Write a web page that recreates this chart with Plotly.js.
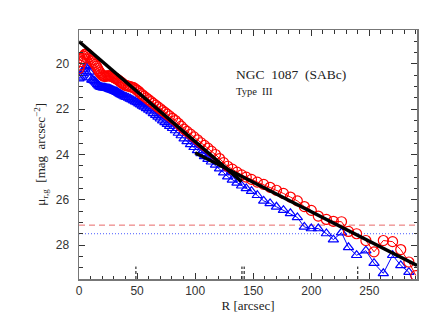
<!DOCTYPE html>
<html>
<head>
<meta charset="utf-8">
<script src="https://cdn.plot.ly/plotly-3.0.1.min.js"></script>
<style>
  body { margin: 0; background: #fff; }
  #myDiv { width: 430px; height: 333px; }
</style>
</head>
<body>
<div id="myDiv"></div>
<script>
var radius = [0, 1, 2, 3, 4, 5, 6, 7, 8, 9, 10, 11, 12, 13, 14, 15, 16, 17, 18, 19,
  20, 21, 22, 23, 24, 25, 26, 27, 28, 29, 30, 31, 32, 33, 34, 35, 36, 37, 38, 39.5,
  41, 42.5, 44, 45.5, 47, 48.5, 50, 51.5, 53, 54.5, 56, 58, 60, 62, 64, 66, 68, 70, 72, 74,
  76, 78, 80.5, 83, 85.5, 88, 90.5, 93, 96, 99, 102, 105, 108, 111, 114, 117.5, 121, 124.5, 128, 132,
  136, 140, 144, 148.5, 153.5, 159, 164.5, 170, 176, 182, 188, 194, 200, 206, 213, 219, 226, 232,
  239, 247, 254, 262, 270, 277, 284, 290];

var muR = [20.2, 20.05, 19.9, 19.75, 19.65, 19.58, 19.55, 19.55, 19.6, 19.68, 19.75, 19.82, 19.88, 19.95, 20.02, 20.1, 20.2, 20.3, 20.38, 20.45,
  20.5, 20.53, 20.55, 20.55, 20.53, 20.52, 20.52, 20.53, 20.55, 20.57, 20.6, 20.62, 20.65, 20.68, 20.72, 20.76, 20.8, 20.84, 20.88, 20.93,
  20.96, 20.98, 21.0, 21.02, 21.05, 21.1, 21.16, 21.22, 21.3, 21.36, 21.42, 21.5, 21.58, 21.66, 21.74, 21.82, 21.9, 21.98, 22.06, 22.14,
  22.22, 22.3, 22.4, 22.5, 22.62, 22.75, 22.88, 22.98, 23.1, 23.22, 23.35, 23.48, 23.6, 23.72, 23.85, 24.0, 24.18, 24.36, 24.52, 24.65,
  24.78, 24.9, 25.0, 25.1, 25.22, 25.32, 25.45, 25.58, 25.72, 25.88, 26.05, 26.3, 26.47, 26.72, 26.87, 26.95, 26.97, 27.4,
  27.5, 27.8, 28.3, 27.8, 27.85, 28.2, 28.75, 29.35];

var muG = [20.65, 20.6, 20.52, 20.42, 20.32, 20.22, 20.12, 20.05, 20.1, 20.35, 20.6, 20.7, 20.72, 20.74, 20.78, 20.84, 20.9, 20.96, 21.0, 21.02,
  21.04, 21.05, 21.05, 21.06, 21.07, 21.08, 21.1, 21.12, 21.14, 21.16, 21.18, 21.2, 21.22, 21.25, 21.28, 21.31, 21.34, 21.37, 21.4, 21.44,
  21.47, 21.5, 21.54, 21.58, 21.62, 21.66, 21.7, 21.75, 21.8, 21.85, 21.9, 21.96, 22.03, 22.1, 22.18, 22.26, 22.34, 22.42, 22.5, 22.58,
  22.66, 22.75, 22.84, 22.94, 23.05, 23.16, 23.3, 23.42, 23.55, 23.68, 23.82, 23.95, 24.08, 24.2, 24.32, 24.46, 24.62, 24.8, 24.98, 25.12,
  25.25, 25.38, 25.5, 25.62, 25.8, 26.05, 26.16, 26.31, 26.46, 26.6, 26.78, 27.2, 27.27, 27.27, 27.49, 27.76, 27.45, 28.1,
  28.45, 28.25, 28.8, 29.25, 28.45, 28.9, 29.2, 29.9];

// fitted disc segments (inner and outer)
var fitInR = [0, 140];
var fitInMu = [19.01, 25.2];
var fitOutR = [100, 291];
var fitOutMu = [23.92, 28.9];

// break radii marked at the bottom
var breakR = [49, 140.3, 142.2, 240];

// sky limits
var limitR = 27.12;
var limitG = 27.5;

var serif = '"Liberation Serif", "DejaVu Serif", serif';

var traceG = {
  x: radius, y: muG, mode: 'lines+markers', type: 'scatter',
  line: {color: '#0000ff', width: 1},
  marker: {symbol: 'triangle-up-open', size: 9, color: '#0000ff', line: {width: 1.2, color: '#0000ff'}}
};
var traceR = {
  x: radius, y: muR, mode: 'lines+markers', type: 'scatter',
  line: {color: '#ff0000', width: 1},
  marker: {symbol: 'circle-open', size: 10, color: '#ff0000', line: {width: 1.2, color: '#ff0000'}}
};
var fitIn = {x: fitInR, y: fitInMu, mode: 'lines', line: {color: '#000', width: 3.5}};
var fitOut = {x: fitOutR, y: fitOutMu, mode: 'lines', line: {color: '#000', width: 3.5}};

var bx = [], by = [];
breakR.forEach(function (r) { bx.push(r, r, null); by.push(29.5, 28.95, null); });
var breaks = {x: bx, y: by, mode: 'lines', line: {color: '#000', width: 1, dash: '3px,2px'}};

var skyR = {x: [0, 291], y: [limitR, limitR], mode: 'lines', line: {color: '#e86a6a', width: 1, dash: '6px,4px'}};
var skyG = {x: [0, 291], y: [limitG, limitG], mode: 'lines', line: {color: '#4a5cff', width: 1, dash: '1px,2px'}};

var data = [skyR, skyG, traceG, traceR, fitIn, fitOut, breaks];

var layout = {
  width: 430, height: 333,
  margin: {l: 79, r: 13, t: 30, b: 54},
  showlegend: false,
  paper_bgcolor: '#fff', plot_bgcolor: '#fff',
  font: {family: '"Liberation Sans", Arial, sans-serif', size: 12, color: '#333'},
  xaxis: {
    range: [0, 291], dtick: 50, tick0: 0,
    ticks: 'inside', ticklen: 6, tickcolor: '#333', mirror: 'allticks',
    showline: true, linecolor: '#777', linewidth: 1.5,
    showgrid: false, zeroline: false,
    minor: {dtick: 10, ticks: 'inside', ticklen: 3.5, tickcolor: '#333'},
    title: {text: 'R [arcsec]', font: {family: serif, size: 13, color: '#222'}, standoff: 4}
  },
  yaxis: {
    range: [29.5, 18.5], dtick: 2, tick0: 20,
    ticks: 'inside', ticklen: 6, tickcolor: '#333', mirror: 'allticks',
    showline: true, linecolor: '#777', linewidth: 1.5,
    showgrid: false, zeroline: false,
    minor: {dtick: 0.5, ticks: 'inside', ticklen: 3.5, tickcolor: '#333'},
    ticklabelstandoff: 6
  },
  annotations: [
    {xref: 'paper', yref: 'paper', x: -0.115, y: 0.5, xanchor: 'center', yanchor: 'middle', showarrow: false,
     textangle: -90, text: 'μ<sub>r,g</sub>  [mag  arcsec<sup>−2</sup>]', font: {family: serif, size: 13, color: '#222'}},
    {xref: 'paper', yref: 'paper', x: 0.46, y: 0.82, xanchor: 'left', yanchor: 'middle', showarrow: false,
     text: 'NGC  1087  (SABc)', font: {family: serif, size: 13.5, color: '#222'}},
    {xref: 'paper', yref: 'paper', x: 0.46, y: 0.755, xanchor: 'left', yanchor: 'middle', showarrow: false,
     text: 'Type  III', font: {family: serif, size: 10.5, color: '#222'}}
  ]
};

Plotly.newPlot('myDiv', data, layout, {displayModeBar: false, staticPlot: true});
</script>
</body>
</html>
